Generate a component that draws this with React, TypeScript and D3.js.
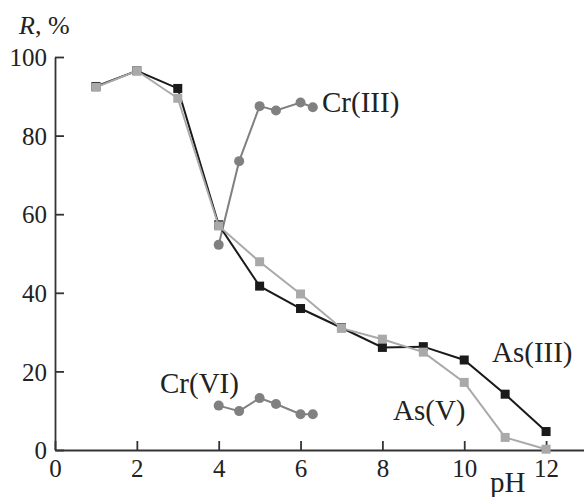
import { useEffect, useRef } from 'react';
import * as d3 from 'd3';

// pH values and retention R, %
const asPh = [1, 2, 3, 4, 5, 6, 7, 8, 9, 10, 11, 12];
const as3 = [92.5, 96.5, 92.0, 57.3, 41.7, 36.0, 31.1, 26.1, 26.3, 22.9, 14.2, 4.7];
const as5 = [92.3, 96.5, 89.5, 57.0, 47.9, 39.7, 31.0, 28.2, 24.9, 17.2, 3.2, 0.2];

const cr3Ph = [4, 4.5, 5, 5.4, 6, 6.3];
const cr3 = [52.2, 73.5, 87.5, 86.4, 88.4, 87.2];

const cr6Ph = [4, 4.5, 5, 5.4, 6, 6.3];
const cr6 = [11.3, 9.9, 13.2, 11.7, 9.1, 9.1];

const xTicks = [0, 2, 4, 6, 8, 10, 12];
const yTicks = [0, 20, 40, 60, 80, 100];

const App = () => {
  const svgRef = useRef<SVGSVGElement>(null);

  useEffect(() => {
    const width = 584;
    const height = 497;
    const font = '"Liberation Serif", "Times New Roman", serif';
    const tickFs = 25;
    const labelFs = 29;

    const svg = d3.select(svgRef.current)
      .attr('width', width)
      .attr('height', height)
      .style('background-color', '#ffffff');

    svg.selectAll('*').remove();

    const x = d3.scaleLinear().domain([0, 13]).range([55, 587]);
    const y = d3.scaleLinear().domain([0, 100]).range([450, 57]);

    const axisColor = '#333333';

    // X axis (ticks point inward)
    const gx = svg.append('g')
      .attr('transform', `translate(0, ${y(0)})`)
      .call(d3.axisBottom(x).tickValues(xTicks).tickSizeInner(-9).tickSizeOuter(0).tickPadding(6));
    gx.select('.domain').attr('stroke', axisColor).attr('stroke-width', 1.8);
    gx.selectAll('.tick line').attr('stroke', axisColor).attr('stroke-width', 1.8);
    gx.selectAll('.tick text')
      .attr('fill', '#222')
      .style('font-family', font)
      .style('font-size', `${tickFs}px`)
      .attr('y', 27)
      .attr('dy', 0);

    // Y axis
    const gy = svg.append('g')
      .attr('transform', `translate(${x(0)}, 0)`)
      .call(d3.axisLeft(y).tickValues(yTicks).tickSizeInner(-9).tickSizeOuter(0).tickPadding(7));
    gy.select('.domain').attr('stroke', axisColor).attr('stroke-width', 1.8);
    gy.selectAll('.tick line').attr('stroke', axisColor).attr('stroke-width', 1.8);
    gy.selectAll('.tick text')
      .attr('fill', '#222')
      .style('font-family', font)
      .style('font-size', `${tickFs}px`)
      .attr('x', -8)
      .attr('dy', '0.35em');

    const line = d3.line<[number, number]>()
      .x(d => x(d[0]))
      .y(d => y(d[1]));

    const addSeries = (xs: number[], ys: number[], color: string, marker: 'square' | 'circle') => {
      const pts: [number, number][] = xs.map((v, i) => [v, ys[i]]);
      svg.append('path')
        .datum(pts)
        .attr('fill', 'none')
        .attr('stroke', color)
        .attr('stroke-width', 2)
        .attr('d', line);
      if (marker === 'square') {
        svg.selectAll(null)
          .data(pts)
          .enter()
          .append('rect')
          .attr('x', d => x(d[0]) - 4.5)
          .attr('y', d => y(d[1]) - 4.5)
          .attr('width', 9)
          .attr('height', 9)
          .attr('fill', color);
      } else {
        svg.selectAll(null)
          .data(pts)
          .enter()
          .append('circle')
          .attr('cx', d => x(d[0]))
          .attr('cy', d => y(d[1]))
          .attr('r', 5)
          .attr('fill', color);
      }
    };

    addSeries(cr3Ph, cr3, '#808080', 'circle');
    addSeries(cr6Ph, cr6, '#808080', 'circle');
    addSeries(asPh, as3, '#1a1a1a', 'square');
    addSeries(asPh, as5, '#a9a9a9', 'square');

    const label = (tx: number, ty: number, t: string) =>
      svg.append('text')
        .attr('x', tx)
        .attr('y', ty)
        .attr('fill', '#222')
        .style('font-family', font)
        .style('font-size', `${labelFs}px`)
        .text(t);

    label(322, 112, 'Cr(III)');
    label(160, 393, 'Cr(VI)');
    label(492, 362, 'As(III)');
    label(393, 420, 'As(V)');
    label(490, 492, 'pH');

    // Y-axis title: italic R
    const yt = svg.append('text')
      .attr('x', 19)
      .attr('y', 34)
      .attr('fill', '#222')
      .style('font-family', font)
      .style('font-size', `${tickFs + 1}px`);
    yt.append('tspan').style('font-style', 'italic').text('R');
    yt.append('tspan').text(', %');
  }, []);

  return <svg ref={svgRef} style={{ position: 'absolute', left: 0, top: 0 }}></svg>;
};

export default App;
